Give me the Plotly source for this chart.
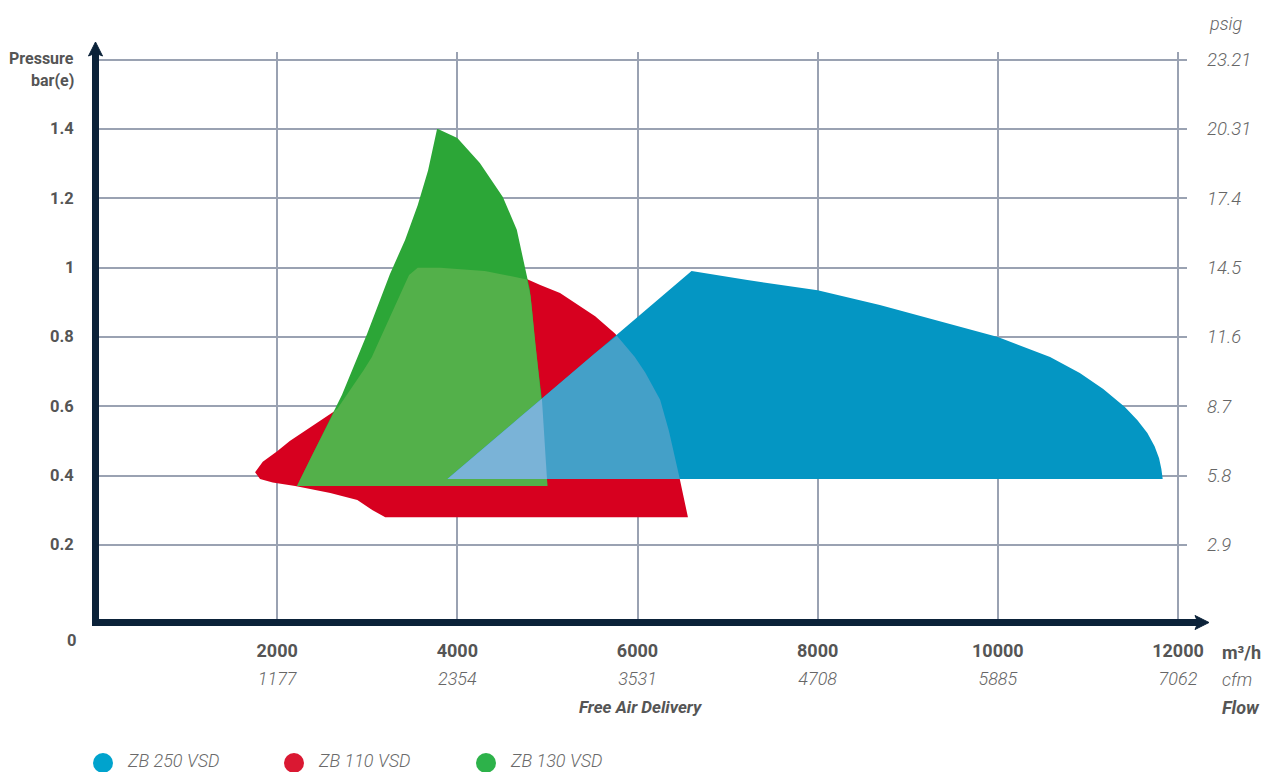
import numpy as np
import plotly.graph_objects as go

# ---------------- data ----------------
FLOW_TICKS = [2000, 4000, 6000, 8000, 10000, 12000]
FLOW_LABELS = ["2000", "4000", "6000", "8000", "10000", "12000"]
CFM_LABELS = ["1177", "2354", "3531", "4708", "5885", "7062"]

PRESSURE_TICKS = [0.2, 0.4, 0.6, 0.8, 1.0, 1.2, 1.4, 1.6]
BAR_LABELS = ["0.2", "0.4", "0.6", "0.8", "1", "1.2", "1.4", ""]
PSIG_LABELS = ["2.9", "5.8", "8.7", "11.6", "14.5", "17.4", "20.31", "23.21"]

# ZB 110 VSD envelope: left and right boundaries (flow m³/h, pressure bar), bottom -> top
zb110_left_x = [3200, 3060, 2890, 2590, 2200, 1950, 1810, 1755, 1840, 2000, 2140,
                2480, 2660, 2810, 3030, 3220, 3360, 3452, 3560]
zb110_left_y = [0.28, 0.30, 0.33, 0.35, 0.37, 0.38, 0.39, 0.41, 0.44, 0.47, 0.50,
                0.56, 0.59, 0.65, 0.73, 0.84, 0.915, 0.976, 1.0]
zb110_right_x = [6560, 6520, 6470, 6420, 6330, 6250, 6060, 5920, 5750, 5530, 5140, 4920,
                 4770, 4590, 4250, 3810]
zb110_right_y = [0.28, 0.33, 0.39, 0.45, 0.55, 0.62, 0.71, 0.76, 0.81, 0.86, 0.927, 0.95,
                 0.967, 0.977, 0.993, 1.0]

# ZB 130 VSD envelope
zb130_left_x = [2220, 2390, 2550, 2720, 3000, 3250, 3420, 3560, 3675, 3775]
zb130_left_y = [0.37, 0.46, 0.546, 0.633, 0.81, 0.98, 1.08, 1.18, 1.28, 1.40]
zb130_right_x = [5000, 4975, 4940, 4860, 4830, 4805, 4775, 4660, 4505, 4250, 4000, 3785]
zb130_right_y = [0.37, 0.474, 0.618, 0.79, 0.878, 0.936, 0.964, 1.109, 1.204, 1.302, 1.374, 1.40]

# ZB 250 VSD envelope
zb250_left_x = [3890, 6600]
zb250_left_y = [0.39, 0.99]
zb250_right_x = [11830, 11815, 11790, 11740, 11660, 11550, 11410, 11170, 10910, 10580,
                 10000, 9300, 8690, 8000, 7220, 6600]
zb250_right_y = [0.39, 0.42, 0.45, 0.485, 0.523, 0.56, 0.598, 0.65, 0.696, 0.742,
                 0.80, 0.85, 0.892, 0.935, 0.964, 0.99]

SERIES = ["ZB 250 VSD", "ZB 110 VSD", "ZB 130 VSD"]
LEGEND_COLORS = ["#00a3cd", "#da1832", "#2db24a"]

# ---------------- styling ----------------
RED = "#d7001f"
GREEN = "#2ca637"
GREEN_ON_RED = "#53b04a"
BLUE = "#0496c3"
BLUE_ON_RED = "#44a0c8"
BLUE_ON_GREEN = "#7ab3d7"
NAVY = "#0b2239"
GRID = "#9aa2b2"
FONT = "Roboto, Liberation Sans, sans-serif"

OFF = 8  # page body margin
W, H = 1274, 772
ML, MT = 96 - OFF, 52 - OFF
PR, PB = 1187 - OFF, 622 - OFF
MR, MB = W - PR, H - PB
PW, PH = PR - ML, PB - MT
X_RANGE = [-11.1, 12100]
Y_RANGE = [-0.0222, 1.622]


def px(x):  # screen x -> paper
    return (x - OFF - ML) / PW


def py(y):  # screen y -> paper
    return (PB - (y - OFF)) / PH


def polygon(s):
    lx, ly, rx, ry = s
    return lx + rx[::-1] + [lx[0]], ly + ry[::-1] + [ly[0]]


def intersect(shapes):
    ylo = max(min(s[1][0], s[3][0]) for s in shapes)
    yhi = min(max(s[1][-1], s[3][-1]) for s in shapes)
    ys = np.concatenate([np.linspace(ylo, yhi, 800)] +
                        [np.asarray(s[1], float) for s in shapes] +
                        [np.asarray(s[3], float) for s in shapes])
    ys = np.unique(ys[(ys >= ylo) & (ys <= yhi)])
    lo = np.max([np.interp(ys, s[1], s[0]) for s in shapes], axis=0)
    hi = np.min([np.interp(ys, s[3], s[2]) for s in shapes], axis=0)
    m = hi > lo
    xs = np.concatenate([lo[m], hi[m][::-1], lo[m][:1]])
    yy = np.concatenate([ys[m], ys[m][::-1], ys[m][:1]])
    return xs, yy


zb110 = (zb110_left_x, zb110_left_y, zb110_right_x, zb110_right_y)
zb130 = (zb130_left_x, zb130_left_y, zb130_right_x, zb130_right_y)
zb250 = (zb250_left_x, zb250_left_y, zb250_right_x, zb250_right_y)

fig = go.Figure()


def add_area(xy, color, name):
    fig.add_trace(go.Scatter(x=list(xy[0]), y=list(xy[1]), fill="toself", fillcolor=color,
                             mode="lines", line=dict(width=0, color=color), name=name,
                             hoverinfo="skip", showlegend=False))


add_area(polygon(zb110), RED, SERIES[1])
add_area(polygon(zb130), GREEN, SERIES[2])
add_area(intersect([zb110, zb130]), GREEN_ON_RED, "overlap 110/130")
add_area(polygon(zb250), BLUE, SERIES[0])
add_area(intersect([zb250, zb110]), BLUE_ON_RED, "overlap 250/110")
add_area(intersect([zb250, zb130]), BLUE_ON_GREEN, "overlap 250/130")

# dummy traces so the secondary axes (cfm / psig) render
fig.add_trace(go.Scatter(x=[None], y=[None], xaxis="x2", yaxis="y", showlegend=False, hoverinfo="skip"))
fig.add_trace(go.Scatter(x=[None], y=[None], xaxis="x", yaxis="y2", showlegend=False, hoverinfo="skip"))

GREY_B = "#555555"
GREY_I = "#666666"
xb_font = dict(family=FONT, size=18, color=GREY_B, weight="bold")
yb_font = dict(family=FONT, size=16.5, color=GREY_B, weight="bold")
xi_font = dict(family=FONT, size=18, color=GREY_I, style="italic", weight=300)
yi_font = dict(family=FONT, size=18.5, color=GREY_I, style="italic", weight=300)

fig.update_layout(
    width=W, height=H,
    margin=dict(l=ML, r=MR, t=MT, b=MB, autoexpand=False),
    paper_bgcolor="white", plot_bgcolor="white",
    showlegend=False,
    font=dict(family=FONT),
    xaxis=dict(range=X_RANGE, tickvals=FLOW_TICKS, ticktext=FLOW_LABELS, showgrid=True,
               gridcolor=GRID, gridwidth=2, zeroline=False, showline=False, ticks="",
               tickfont=xb_font, ticklabelstandoff=16, automargin=False, fixedrange=True),
    xaxis2=dict(range=X_RANGE, overlaying="x", side="bottom", anchor="y", tickvals=FLOW_TICKS,
                ticktext=CFM_LABELS, showgrid=False, zeroline=False, showline=False, ticks="",
                tickfont=xi_font, ticklabelstandoff=44, automargin=False, fixedrange=True),
    yaxis=dict(range=Y_RANGE, tickvals=PRESSURE_TICKS, showgrid=True, showticklabels=False,
               gridcolor=GRID, gridwidth=2, zeroline=False, showline=False, ticks="",
               automargin=False, fixedrange=True),
    yaxis2=dict(range=Y_RANGE, overlaying="y", side="right", anchor="x", tickvals=PRESSURE_TICKS,
                ticktext=PSIG_LABELS, showgrid=False, zeroline=False, showline=False, ticks="",
                tickfont=yi_font, ticklabelstandoff=19, automargin=False, fixedrange=True),
)

shapes = []
shapes.append(dict(type="line", xref="paper", yref="paper", x0=px(95.5), x1=px(95.5),
                   y0=py(626), y1=py(52), line=dict(color=NAVY, width=7), layer="above"))
shapes.append(dict(type="line", xref="paper", yref="paper", x0=px(92), x1=px(1198),
                   y0=py(622.5), y1=py(622.5), line=dict(color=NAVY, width=7), layer="above"))
shapes.append(dict(type="path", xref="paper", yref="paper", xsizemode="pixel", ysizemode="pixel",
                   xanchor=px(95.5), yanchor=py(42), path="M 0 0 L -7 -14 L 0 -11 L 7 -14 Z",
                   fillcolor=NAVY, line=dict(color=NAVY, width=1), layer="above"))
shapes.append(dict(type="path", xref="paper", yref="paper", xsizemode="pixel", ysizemode="pixel",
                   xanchor=px(1209), yanchor=py(622.5), path="M 0 0 L -14 7 L -11 0 L -14 -7 Z",
                   fillcolor=NAVY, line=dict(color=NAVY, width=1), layer="above"))
LEGEND_X = [103, 294, 486]
for lx, col in zip(LEGEND_X, LEGEND_COLORS):
    shapes.append(dict(type="circle", xref="paper", yref="paper", xsizemode="pixel",
                       ysizemode="pixel", xanchor=px(lx), yanchor=py(763),
                       x0=-10, x1=10, y0=-10, y1=10, fillcolor=col, line=dict(width=0)))
fig.update_layout(shapes=shapes)

ann = []


def text(t, x, y, anchor, font, pad=1):
    ann.append(dict(text=t, x=px(x), y=py(y), xref="paper", yref="paper", xanchor=anchor,
                    yanchor="middle", showarrow=False, font=font, borderpad=pad))


# bar(e) tick labels, placed on the pressure scale
for val, lab in zip(PRESSURE_TICKS, BAR_LABELS):
    if lab:
        ann.append(dict(text=lab, x=px(76), y=val, xref="paper", yref="y", xanchor="right",
                        yanchor="middle", showarrow=False, font=yb_font))

lbl_bold = dict(family=FONT, size=16, color=GREY_B, weight="bold")
text("Pressure", 76, 58, "right", lbl_bold)
text("bar(e)", 76, 80, "right", lbl_bold)
text("0", 71, 640, "center", yb_font)
text("psig", 1207, 23, "left", dict(family=FONT, size=18, color=GREY_I, style="italic", weight=300))
text("m³/h", 1220, 652, "left", xb_font)
text("cfm", 1220, 679, "left", xi_font)
text("Flow", 1220, 707, "left", dict(family=FONT, size=18, color=GREY_B, weight="bold", style="italic"))
text("Free Air Delivery", 641, 707, "center",
     dict(family=FONT, size=17, color=GREY_B, weight="bold", style="italic"))
for lx, name in zip(LEGEND_X, SERIES):
    text(name, lx + 23, 760, "left",
         dict(family=FONT, size=18, color="#6a6a6a", style="italic", weight=300), pad=0)
fig.update_layout(annotations=ann)

fig.write_html("out.html")
